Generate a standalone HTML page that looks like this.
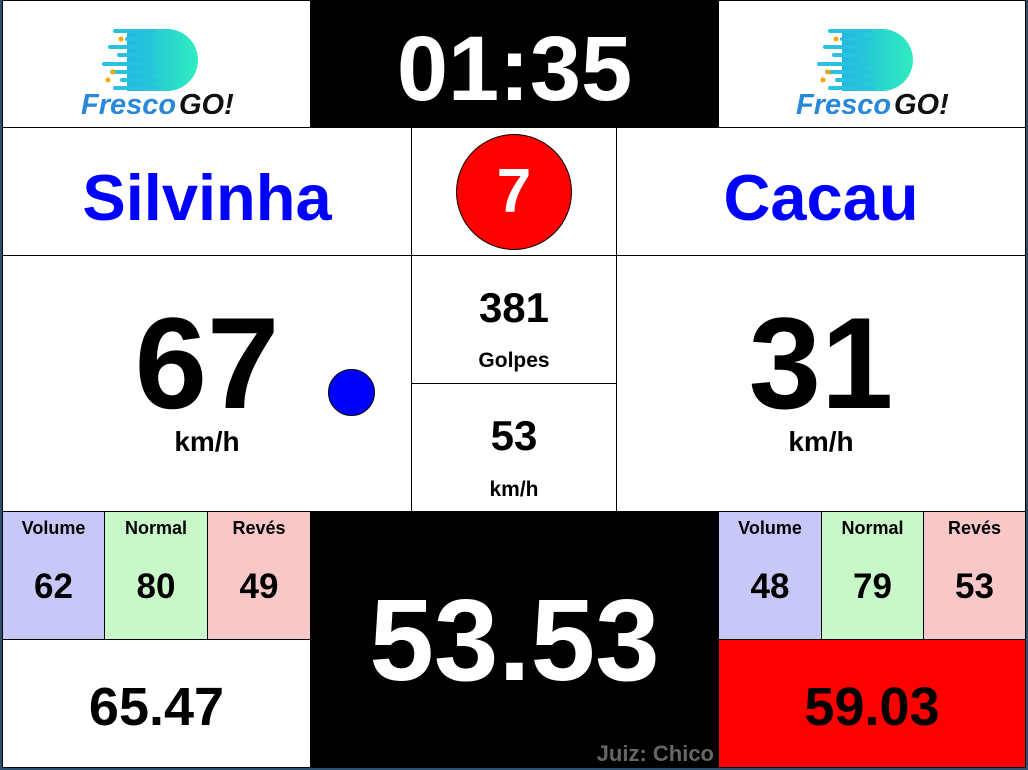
<!DOCTYPE html>
<html><head><meta charset="utf-8"><style>
*{margin:0;padding:0;box-sizing:border-box}
body{width:1028px;height:770px;background:#2a5070;position:relative;overflow:hidden;font-family:"Liberation Sans",Arial,sans-serif;font-weight:bold}
.b{position:absolute;border:1px solid #000;display:flex;align-items:center;justify-content:center;flex-direction:column;text-align:center;background:#fff}
.lbl{position:absolute;left:0;right:0;top:6px;font-size:18px}
.num{font-size:35px;margin-top:26px}
.ab{position:absolute;left:0;right:0;text-align:center}
</style></head><body>
<div style="position:absolute;left:2px;top:0;width:1024px;height:768px;background:#000"></div>

<div class="b" style="left:2px;top:0;width:309px;height:128px">
<svg width="180" height="100" viewBox="0 0 180 100">
<defs><linearGradient id="g1" x1="0" x2="1"><stop offset="0" stop-color="#1fb8e0"/><stop offset="1" stop-color="#30ecc0"/></linearGradient></defs>
<path d="M60 15 H100 A31 31 0 0 1 100 77 H60 Z" fill="url(#g1)"/>
<g stroke="#2ac0e0" stroke-width="4" stroke-linecap="round">
<line x1="48" y1="17" x2="88" y2="17"/><line x1="60" y1="25" x2="88" y2="25"/><line x1="43" y1="33" x2="84" y2="33"/><line x1="52" y1="41" x2="84" y2="41"/><line x1="37" y1="50" x2="85" y2="50"/><line x1="45" y1="58" x2="88" y2="58"/><line x1="55" y1="66" x2="88" y2="66"/><line x1="48" y1="74" x2="90" y2="74"/></g>
<circle cx="54" cy="25" r="2.5" fill="#f5a800"/><circle cx="46" cy="58" r="2.5" fill="#f5a800"/><circle cx="41" cy="66" r="2.5" fill="#f5a800"/>
<text x="14" y="100" font-size="29" font-style="italic" font-weight="bold" fill="#2a88d8" font-family="Liberation Sans">Fresco</text>
<text x="112" y="100" font-size="29" font-style="italic" font-weight="bold" fill="#111" font-family="Liberation Sans">GO!</text>
</svg></div>
<div class="b" style="left:310px;top:0;width:409px;height:128px;background:#000;color:#fff;font-size:92px;padding-top:10px">01:35</div>
<div class="b" style="left:718px;top:0;width:308px;height:128px">
<svg width="180" height="100" viewBox="0 0 180 100">
<path d="M60 15 H100 A31 31 0 0 1 100 77 H60 Z" fill="url(#g1)"/>
<g stroke="#2ac0e0" stroke-width="4" stroke-linecap="round">
<line x1="48" y1="17" x2="88" y2="17"/><line x1="60" y1="25" x2="88" y2="25"/><line x1="43" y1="33" x2="84" y2="33"/><line x1="52" y1="41" x2="84" y2="41"/><line x1="37" y1="50" x2="85" y2="50"/><line x1="45" y1="58" x2="88" y2="58"/><line x1="55" y1="66" x2="88" y2="66"/><line x1="48" y1="74" x2="90" y2="74"/></g>
<circle cx="54" cy="25" r="2.5" fill="#f5a800"/><circle cx="46" cy="58" r="2.5" fill="#f5a800"/><circle cx="41" cy="66" r="2.5" fill="#f5a800"/>
<text x="14" y="100" font-size="29" font-style="italic" font-weight="bold" fill="#2a88d8" font-family="Liberation Sans">Fresco</text>
<text x="112" y="100" font-size="29" font-style="italic" font-weight="bold" fill="#111" font-family="Liberation Sans">GO!</text>
</svg></div>

<div class="b" style="left:2px;top:127px;width:410px;height:129px;color:#0000ff;font-size:65px;padding-top:12px">Silvinha</div>
<div class="b" style="left:411px;top:127px;width:206px;height:129px">
<div style="width:116px;height:116px;border-radius:50%;background:#f00;border:1px solid #000;color:#fff;font-size:62px;display:flex;align-items:center;justify-content:center">7</div></div>
<div class="b" style="left:616px;top:127px;width:410px;height:129px;color:#0000ff;font-size:65px;padding-top:12px">Cacau</div>

<div class="b" style="left:2px;top:255px;width:410px;height:257px">
<div class="ab" style="top:42px;font-size:130px;line-height:130px">67</div>
<div class="ab" style="top:170px;font-size:28px">km/h</div>
<div style="position:absolute;left:325px;top:113px;width:47px;height:47px;border-radius:50%;background:#0000ff;border:1px solid #000"></div>
</div>
<div class="b" style="left:411px;top:255px;width:206px;height:129px">
<div class="ab" style="top:28px;font-size:42px">381</div><div class="ab" style="top:93px;font-size:21px">Golpes</div></div>
<div class="b" style="left:411px;top:383px;width:206px;height:129px">
<div class="ab" style="top:28px;font-size:42px">53</div><div class="ab" style="top:94px;font-size:21px">km/h</div></div>
<div class="b" style="left:616px;top:255px;width:410px;height:257px">
<div class="ab" style="top:42px;font-size:130px;line-height:130px">31</div>
<div class="ab" style="top:170px;font-size:28px">km/h</div>
</div>

<div class="b" style="left:2px;top:511px;width:103px;height:129px;background:#c8c8f8;justify-content:flex-start"><div class="lbl">Volume</div><div class="num" style="margin-top:55px">62</div></div>
<div class="b" style="left:104px;top:511px;width:104px;height:129px;background:#c8f8c8;justify-content:flex-start"><div class="lbl">Normal</div><div class="num" style="margin-top:55px">80</div></div>
<div class="b" style="left:207px;top:511px;width:104px;height:129px;background:#f8c8c8;justify-content:flex-start"><div class="lbl">Revés</div><div class="num" style="margin-top:55px">49</div></div>
<div class="b" style="left:2px;top:639px;width:309px;height:129px;font-size:54px;padding-top:6px">65.47</div>

<div class="b" style="left:310px;top:511px;width:409px;height:257px;background:#000;color:#fff;font-size:116px">53.53
<div style="position:absolute;right:4px;bottom:0;font-size:22px;color:#666">Juiz: Chico</div></div>

<div class="b" style="left:718px;top:511px;width:104px;height:129px;background:#c8c8f8;justify-content:flex-start"><div class="lbl">Volume</div><div class="num" style="margin-top:55px">48</div></div>
<div class="b" style="left:821px;top:511px;width:103px;height:129px;background:#c8f8c8;justify-content:flex-start"><div class="lbl">Normal</div><div class="num" style="margin-top:55px">79</div></div>
<div class="b" style="left:923px;top:511px;width:103px;height:129px;background:#f8c8c8;justify-content:flex-start"><div class="lbl">Revés</div><div class="num" style="margin-top:55px">53</div></div>
<div class="b" style="left:718px;top:639px;width:308px;height:129px;background:#f00;font-size:54px;padding-top:6px">59.03</div>
</body></html>
